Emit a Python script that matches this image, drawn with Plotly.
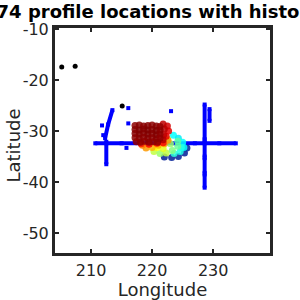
import plotly.graph_objects as go

# Colored cluster (lon, lat, value)
clu_lon = [222.0, 223.2, 224.3, 225.3, 225.7,
           223.5, 224.3, 225.0, 225.2, 224.6, 223.6, 224.8,
           220.3, 221.3, 222.3, 223.3, 224.2, 224.2, 223.0, 221.8, 220.8, 222.5,
           219.0, 220.0, 221.0, 222.0, 222.6, 218.4,
           218.2, 219.5, 220.8, 222.3, 222.7, 222.5, 221.8,
           221.8, 222.0, 221.9, 221.8,
           217.2, 217.9, 218.6, 219.3, 220.0, 220.7, 221.3,
           217.2, 217.9, 218.6, 219.3, 220.0, 220.7, 221.3,
           217.2, 217.9, 218.6, 219.3, 220.0, 220.7, 221.3,
           217.2, 217.9, 218.6, 219.3, 220.0, 220.7, 221.3,
           217.4, 218.1, 218.8, 219.5, 220.2, 220.9]
clu_lat = [-35.1, -35.2, -35.0, -34.3, -33.3,
           -30.8, -31.4, -32.2, -33.2, -34.0, -34.4, -33.2,
           -34.0, -34.4, -34.3, -33.8, -33.0, -32.0, -32.5, -33.4, -33.2, -31.5,
           -33.3, -33.2, -32.8, -32.5, -31.8, -32.8,
           -32.5, -32.6, -32.4, -31.0, -30.0, -29.0, -32.3,
           -28.6, -29.6, -30.7, -31.7,
           -28.9, -28.8, -29.0, -28.9, -28.8, -29.0, -29.1,
           -29.7, -29.8, -29.6, -29.8, -29.7, -29.9, -29.8,
           -30.5, -30.6, -30.4, -30.6, -30.5, -30.7, -30.6,
           -31.3, -31.4, -31.2, -31.4, -31.3, -31.5, -31.4,
           -32.1, -32.2, -32.0, -32.2, -32.1, -32.2]
clu_val = [0.10, 0.10, 0.12, 0.10, 0.12,
           0.40, 0.38, 0.40, 0.40, 0.42, 0.43, 0.42,
           0.55, 0.52, 0.55, 0.50, 0.48, 0.47, 0.52, 0.58, 0.60, 0.50,
           0.68, 0.66, 0.66, 0.67, 0.68, 0.70,
           0.78, 0.80, 0.80, 0.82, 0.84, 0.86, 0.79,
           0.90, 0.91, 0.90, 0.92,
           0.98, 0.99, 0.98, 0.99, 0.98, 0.99, 0.97,
           0.99, 1.00, 0.99, 1.00, 0.99, 1.00, 0.98,
           0.99, 1.00, 0.99, 1.00, 0.99, 1.00, 0.98,
           0.98, 0.99, 0.98, 0.99, 0.98, 0.99, 0.97,
           0.97, 0.98, 0.97, 0.98, 0.97, 0.98]

# Blue transects (each a separate line)
tr_h_lon = [210.7, 212.5, 215.0, 218.0, 221.0, 224.0, 227.0, 228.6, 231.0, 233.7]
tr_h_lat = [-32.4, -32.4, -32.4, -32.4, -32.4, -32.4, -32.4, -32.4, -32.4, -32.4]
tr_v1_lon = [212.5, 212.5]
tr_v1_lat = [-32.1, -36.5]
tr_d_lon = [212.3, 212.8, 213.5]
tr_d_lat = [-31.4, -28.7, -25.9]
tr_v2a_lon = [228.6, 228.6]
tr_v2a_lat = [-24.8, -31.6]
tr_v2b_lon = [228.6, 228.6]
tr_v2b_lat = [-31.9, -35.0]
tr_v2c_lon = [228.6, 228.6]
tr_v2c_lat = [-35.3, -38.2]
tr_v2d_lon = [228.6, 228.6]
tr_v2d_lat = [-38.5, -41.1]
tr_v3_lon = [229.4, 229.4]
tr_v3_lat = [-25.7, -28.0]

# Isolated blue profiles
iso_lon = [211.8, 216.1, 216.1, 223.1, 215.8, 212.0]
iso_lat = [-28.9, -25.5, -28.5, -26.1, -33.3, -30.8]

# Black profiles
blk_lon = [205.2, 207.4, 215.1]
blk_lat = [-17.45, -17.3, -25.1]

x_ticks = [210, 220, 230]
x_ticklabels = ["210", "220", "230"]
y_ticks = [-10, -20, -30, -40, -50]
y_ticklabels = ["-10", "-20", "-30", "-40", "-50"]

BLUE = "#0000ff"
AX = "#262626"

fig = go.Figure()
for lx, ly in [(tr_h_lon, tr_h_lat), (tr_v1_lon, tr_v1_lat), (tr_d_lon, tr_d_lat),
               (tr_v2a_lon, tr_v2a_lat), (tr_v2b_lon, tr_v2b_lat),
               (tr_v2c_lon, tr_v2c_lat), (tr_v2d_lon, tr_v2d_lat),
               (tr_v3_lon, tr_v3_lat)]:
    fig.add_trace(go.Scatter(x=lx, y=ly, mode="lines+markers",
                             line=dict(color=BLUE, width=4),
                             marker=dict(color=BLUE, size=4, symbol="square"),
                             showlegend=False, hoverinfo="skip"))
fig.add_trace(go.Scatter(x=iso_lon, y=iso_lat, mode="markers",
                         marker=dict(color=BLUE, size=4, symbol="square"),
                         showlegend=False))
fig.add_trace(go.Scatter(x=blk_lon, y=blk_lat, mode="markers",
                         marker=dict(color="black", size=5),
                         showlegend=False))
fig.add_trace(go.Scatter(x=clu_lon, y=clu_lat, mode="markers",
                         marker=dict(color=clu_val, colorscale="Jet", cmin=0, cmax=1,
                                     size=7, opacity=0.85, line=dict(width=0)),
                         showlegend=False))

axis_common = dict(showline=True, linewidth=3, linecolor=AX, mirror="ticks",
                   ticks="inside", ticklen=4, tickwidth=2, tickcolor=AX,
                   showgrid=False, zeroline=False, automargin=False,
                   tickfont=dict(family="DejaVu Sans", size=16, color=AX))

fig.update_layout(
    width=300, height=300,
    margin=dict(l=55, r=30, t=28, b=47),
    paper_bgcolor="white", plot_bgcolor="white",
    xaxis=dict(range=[204.1, 239.3], tickvals=x_ticks, ticktext=x_ticklabels,
               ticklabelstandoff=1,
               title=dict(text="Longitude", font=dict(family="DejaVu Sans", size=18, color=AX),
                          standoff=2),
               **axis_common),
    yaxis=dict(range=[-53.9, -9.8], tickvals=y_ticks, ticktext=y_ticklabels,
               **axis_common),
    title=dict(text="<b>2574 profile locations with historical</b>",
               xref="paper", x=0.4767, xanchor="center",
               yref="container", y=0.96, yanchor="middle",
               font=dict(family="DejaVu Sans", size=18, color="black")),
    annotations=[dict(text="Latitude", textangle=-90,
                      xref="paper", yref="paper",
                      x=(12.5 - 55) / 215, y=(253 - 146) / 225,
                      xanchor="center", yanchor="middle", showarrow=False,
                      font=dict(family="DejaVu Sans", size=18, color=AX))],
)

fig.write_html("out.html")
